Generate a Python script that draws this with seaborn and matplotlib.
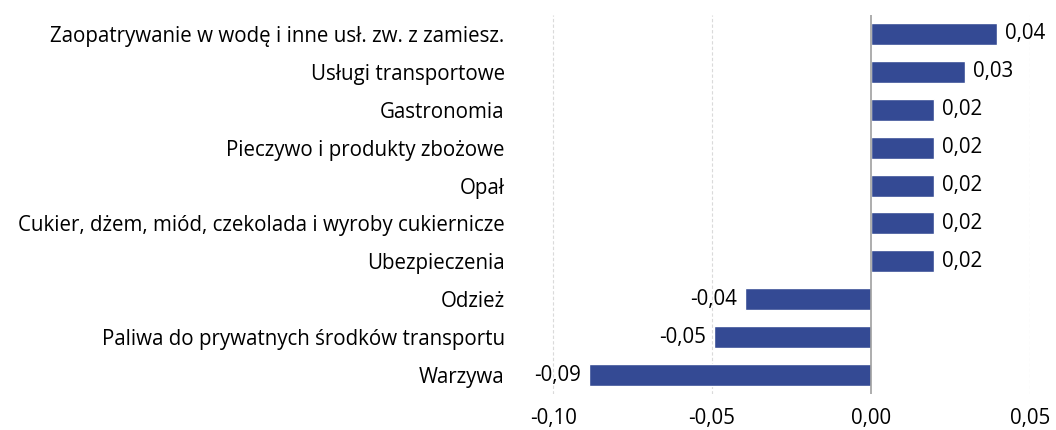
import matplotlib
matplotlib.use("Agg")
import matplotlib.pyplot as plt
import seaborn as sns
import pandas as pd

categories = [
    "Zaopatrywanie w wodę i inne usł. zw. z zamiesz.",
    "Usługi transportowe",
    "Gastronomia",
    "Pieczywo i produkty zbożowe",
    "Opał",
    "Cukier, dżem, miód, czekolada i wyroby cukiernicze",
    "Ubezpieczenia",
    "Odzież",
    "Paliwa do prywatnych środków transportu",
    "Warzywa",
]
values = [0.0396, 0.0296, 0.0198, 0.0198, 0.0198, 0.0198, 0.0198, -0.0396, -0.0494, -0.0887]
xticks = [-0.10, -0.05, 0.00, 0.05]

sns.set_style("white")
plt.rcParams["font.family"] = ["Open Sans", "DejaVu Sans"]
plt.rcParams["text.color"] = "black"
plt.rcParams["xtick.color"] = "black"
plt.rcParams["ytick.color"] = "black"

df = pd.DataFrame({"cat": categories, "val": values})

fig = plt.figure(figsize=(10.56, 4.30), dpi=100)
ax = fig.add_axes([513 / 1056, 0.0837, (1030 - 513) / 1056, 0.8813])
sns.barplot(data=df, y="cat", x="val", orient="h", color="#344a94",
            width=0.58, ax=ax, saturation=1)

ax.set_xlim(-0.1126, 0.05)
ax.set_xticks(xticks)
ax.set_xticklabels([f"{t:.2f}".replace(".", ",") for t in xticks], fontsize=14.8)
ax.set_xlabel("")
ax.set_ylabel("")
ax.tick_params(axis="y", labelsize=14.8, length=0, pad=6)
ax.tick_params(axis="x", length=0, pad=10)
for s in ax.spines.values():
    s.set_visible(False)

for t in [-0.10, -0.05, 0.05]:
    ax.axvline(t, color="#dadada", lw=0.8, ls=(0, (3, 2)), zorder=0)
ax.axvline(0, color="#a0a0a0", lw=1.2, zorder=3)

for c in ax.containers:
    labels = [f"{v:.2f}".replace(".", ",") for v in c.datavalues]
    ax.bar_label(c, labels=labels, padding=6, fontsize=14.8, color="black")

fig.savefig("out.png", dpi=100)
